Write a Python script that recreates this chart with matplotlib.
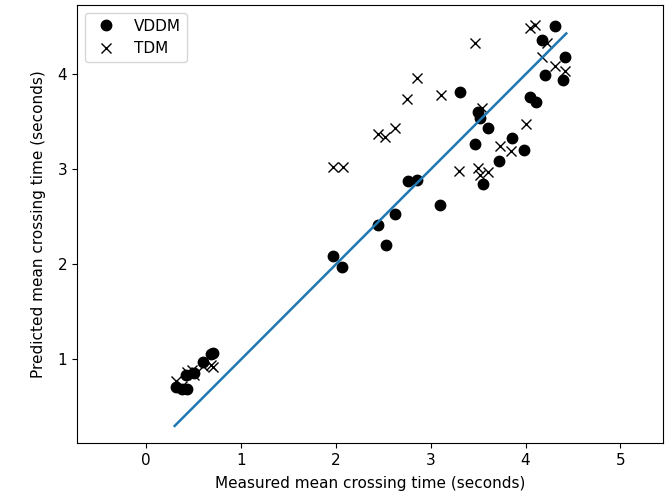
import matplotlib
matplotlib.use("Agg")
import matplotlib.pyplot as plt

# measured / predicted mean crossing times (seconds)
vddm_measured = [0.31, 0.38, 0.43, 0.42, 0.50, 0.60, 0.68, 0.70,
                 1.97, 2.06, 2.44, 2.53, 2.62, 2.76, 2.86, 3.10,
                 3.31, 3.50, 3.52, 3.60, 3.47, 3.86, 3.98, 3.72, 3.55,
                 4.05, 4.11, 4.31, 4.17, 4.42, 4.21, 4.40]
vddm_predicted = [0.71, 0.69, 0.69, 0.84, 0.86, 0.97, 1.06, 1.07,
                  2.09, 1.97, 2.41, 2.20, 2.53, 2.88, 2.89, 2.62,
                  3.81, 3.60, 3.54, 3.43, 3.27, 3.33, 3.20, 3.09, 2.85,
                  3.76, 3.71, 4.51, 4.36, 4.18, 3.99, 3.94]

tdm_measured = [0.31, 0.38, 0.43, 0.48, 0.50, 0.60, 0.68, 0.70,
                1.97, 2.07, 2.44, 2.52, 2.62, 2.75, 2.86, 3.11,
                3.47, 3.54, 3.30, 3.50, 3.60, 3.52, 3.73, 3.85, 4.00,
                4.05, 4.10, 4.23, 4.17, 4.31, 4.42]
tdm_predicted = [0.77, 0.72, 0.87, 0.89, 0.84, 0.93, 0.94, 0.92,
                 3.02, 3.02, 3.37, 3.34, 3.44, 3.74, 3.96, 3.78,
                 4.33, 3.65, 2.98, 3.01, 2.97, 2.94, 3.25, 3.19, 3.48,
                 4.49, 4.52, 4.33, 4.18, 4.09, 4.04]

line_range = [0.30, 4.43]

plt.rcParams['font.size'] = 11

fig = plt.figure(figsize=(6.72, 4.95), dpi=100)
ax = fig.add_axes([0.1146, 0.105, 0.872, 0.885])

ax.plot(vddm_measured, vddm_predicted, 'ko', markersize=7.5, label='VDDM')
ax.plot(tdm_measured, tdm_predicted, 'kx', markersize=7.5, label='TDM')
ax.plot(line_range, line_range, color='tab:blue', linewidth=1.8)

ax.set_xlim(-0.73, 5.45)
ax.set_ylim(0.12, 4.73)
ax.set_xticks([0, 1, 2, 3, 4, 5])
ax.set_yticks([1, 2, 3, 4])
ax.set_xlabel('Measured mean crossing time (seconds)', labelpad=6)
ax.set_ylabel('Predicted mean crossing time (seconds)', labelpad=8)
ax.legend(loc='upper left')

fig.savefig('out.png', dpi=100)
